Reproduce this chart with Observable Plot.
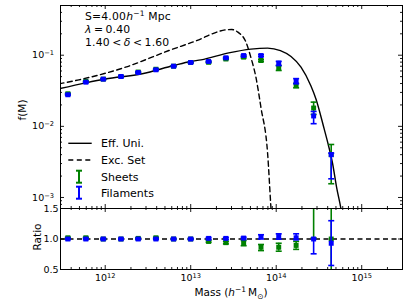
<!DOCTYPE html>
<html><head><meta charset="utf-8">
<script src="https://cdn.jsdelivr.net/npm/d3@7"></script>
<script src="https://cdn.jsdelivr.net/npm/@observablehq/plot@0.6"></script>
<style>
html,body{margin:0;padding:0;background:#fff;}
#wrap{position:relative;width:407px;height:308px;font-family:"DejaVu Sans",sans-serif;}
#wrap svg{display:block;overflow:visible;}
#ov{position:absolute;left:0;top:0;pointer-events:none;}
</style></head><body>
<div id="wrap"></div>
<script>
// ---------- data ----------
const massBins = [3.66e11, 5.94e11, 9.49e11, 1.53e12, 2.43e12, 3.92e12, 6.31e12, 1.0e13, 1.62e13, 2.58e13, 4.16e13, 6.64e13, 1.07e14, 1.71e14, 2.74e14, 4.40e14];

const sheetsF  = [0.0287, 0.0428, 0.0461, 0.0502, 0.0580, 0.0635, 0.0701, 0.0791, 0.0795, 0.0885, 0.0940, 0.0843, 0.0663, 0.0376, 0.0181, 0.0040];
const sheetsLo = [0.0281, 0.0420, 0.0452, 0.0493, 0.0570, 0.0624, 0.0690, 0.0778, 0.0780, 0.0868, 0.0915, 0.0815, 0.0610, 0.0348, 0.0147, 0.00156];
const sheetsHi = [0.0293, 0.0436, 0.0470, 0.0511, 0.0590, 0.0646, 0.0712, 0.0804, 0.0810, 0.0902, 0.0965, 0.0871, 0.0716, 0.0404, 0.0219, 0.00556];

const filF  = [0.0278, 0.0418, 0.0461, 0.0502, 0.0571, 0.0624, 0.0701, 0.0791, 0.0817, 0.0920, 0.0990, 0.0990, 0.0773, 0.0431, 0.0140, 0.0040];
const filLo = [0.0272, 0.0410, 0.0452, 0.0493, 0.0561, 0.0613, 0.0690, 0.0778, 0.0800, 0.0900, 0.0965, 0.0960, 0.0716, 0.0396, 0.0109, 0.00183];
const filHi = [0.0284, 0.0426, 0.0470, 0.0511, 0.0581, 0.0635, 0.0712, 0.0804, 0.0834, 0.0940, 0.1015, 0.1020, 0.0819, 0.0469, 0.0162, 0.0042];

const sheetsR   = [1.02, 1.02, 1.00, 1.00, 1.01, 1.02, 1.00, 1.00, 0.96, 0.94, 0.93, 0.865, 0.865, 0.895, 1.60, 1.00];
const sheetsRLo = [1.01, 1.01, 0.99, 0.99, 1.00, 1.01, 0.99, 0.99, 0.945, 0.92, 0.89, 0.81, 0.80, 0.83, 1.02, 0.30];
const sheetsRHi = [1.03, 1.03, 1.01, 1.01, 1.02, 1.03, 1.01, 1.01, 0.975, 0.96, 0.975, 0.91, 0.93, 0.96, 2.20, 1.70];

const filR   = [1.00, 1.00, 1.00, 1.00, 1.00, 1.00, 1.00, 1.00, 1.01, 1.01, 1.015, 1.04, 1.04, 1.02, 1.00, 0.93];
const filRLo = [0.99, 0.99, 0.99, 0.99, 0.99, 0.99, 0.99, 0.99, 0.995, 0.995, 1.00, 1.00, 0.997, 0.987, 0.757, 0.566];
const filRHi = [1.01, 1.01, 1.01, 1.01, 1.01, 1.01, 1.01, 1.01, 1.025, 1.025, 1.03, 1.07, 1.085, 1.085, 1.00, 1.30];

const effUniM = [2.88e11, 5.94e11, 1.0e12, 2.71e12, 6.31e12, 1.0e13, 1.32e13, 2.79e13, 5.06e13, 7.94e13, 1.12e14, 1.49e14, 1.95e14, 2.55e14, 2.91e14, 3.64e14, 4.06e14, 4.57e14, 5.08e14, 5.71e14, 6.31e14];
const effUniF = [0.0337, 0.0409, 0.0463, 0.0548, 0.0716, 0.0817, 0.0860, 0.108, 0.122, 0.126, 0.116, 0.096, 0.068, 0.037, 0.0245, 0.0092, 0.00556, 0.00298, 0.0014, 0.0007, 0.00033];

const excSetM = [2.88e11, 4.92e11, 1.73e12, 5.56e12, 1.32e13, 1.78e13, 2.58e13, 3.02e13, 3.56e13, 4.43e13, 5.06e13, 5.79e13, 6.62e13, 7.94e13, 8.67e13, 9.04e13];
const excSetF = [0.0396, 0.0451, 0.0679, 0.1164, 0.170, 0.200, 0.2276, 0.230, 0.211, 0.1525, 0.0929, 0.0491, 0.0186, 0.00411, 0.00073, 0.00034];

const xMajorTicks = [1e12, 1e13, 1e14, 1e15];
const yMainTicks = [1e-1, 1e-2, 1e-3];
const yRatioTicks = [0.5, 1.0, 1.5];
const xDomain = [3e11, 3e15];
const yMainDomain = [7e-4, 0.5];
const yRatioDomain = [0.5, 1.5];

// ---------- layout ----------
const W = 407, ML = 60, MR = 5;
const innerW = W - ML - MR;
const mainH = 208, mainMT = 5;
const ratioH = 100, ratioMB = 39;
const green = "#008000", blue = "#0000ff";
const idx = d3.range(massBins.length);
const capSymbol = {draw(ctx, size) { const w = Math.sqrt(size / Math.PI); ctx.moveTo(-w, 0); ctx.lineTo(w, 0); }};

function minorLog(lo, hi) {
  const out = [];
  for (let e = Math.floor(Math.log10(lo)); e <= Math.ceil(Math.log10(hi)); e++)
    for (let k = 2; k <= 9; k++) { const v = k * Math.pow(10, e); if (v > lo && v < hi) out.push(v); }
  return out;
}

function frameTicks(innerH, xSets, ySets) {
  const m = [];
  const st = {stroke: "black", strokeWidth: 0.9};
  for (const [vals, len] of xSets) {
    m.push(Plot.ruleX(vals, {x: d => d, insetTop: innerH - len, ...st}));
    m.push(Plot.ruleX(vals, {x: d => d, insetBottom: innerH - len, ...st}));
  }
  for (const [vals, len] of ySets) {
    m.push(Plot.ruleY(vals, {y: d => d, insetRight: innerW - len, ...st}));
    m.push(Plot.ruleY(vals, {y: d => d, insetLeft: innerW - len, ...st}));
  }
  return m;
}

function errMarks(vals, lo, hi, color) {
  return [
    Plot.ruleX(idx, {x: i => massBins[i], y1: i => lo[i], y2: i => hi[i], stroke: color, strokeWidth: 1.6, clip: true}),
    Plot.dot(idx, {x: i => massBins[i], y: i => lo[i], symbol: capSymbol, r: 3, fill: "none", stroke: color, strokeWidth: 1.6, clip: true}),
    Plot.dot(idx, {x: i => massBins[i], y: i => hi[i], symbol: capSymbol, r: 3, fill: "none", stroke: color, strokeWidth: 1.6, clip: true}),
    Plot.dot(idx, {x: i => massBins[i], y: i => vals[i], symbol: "square", r: 2.8, fill: color, stroke: "none", clip: true})
  ];
}

const expFmt = d => "10^" + String(Math.round(Math.log10(d))).replace("-", "\u2212");
const baseStyle = {fontFamily: "DejaVu Sans", fontSize: "9.5px", color: "black", background: "transparent", overflow: "visible"};

const xMinor = minorLog(xDomain[0], xDomain[1]);
const yMinor = minorLog(yMainDomain[0], yMainDomain[1]);

const main = Plot.plot({
  width: W, height: mainH, marginTop: mainMT, marginBottom: 0, marginLeft: ML, marginRight: MR,
  style: baseStyle,
  x: {type: "log", domain: xDomain, axis: null},
  y: {type: "log", domain: yMainDomain, axis: null},
  marks: [
    Plot.line(d3.range(effUniM.length), {x: i => effUniM[i], y: i => effUniF[i], stroke: "black", strokeWidth: 1.4, curve: "monotone-x", clip: true}),
    Plot.line(d3.range(excSetM.length), {x: i => excSetM[i], y: i => excSetF[i], stroke: "black", strokeWidth: 1.4, strokeDasharray: "5,3.5", curve: "monotone-x", clip: true}),
    ...errMarks(sheetsF, sheetsLo, sheetsHi, green),
    ...errMarks(filF, filLo, filHi, blue),
    ...frameTicks(mainH - mainMT, [[xMajorTicks, 4], [xMinor, 2]], [[yMainTicks, 4], [yMinor, 2]]),
    Plot.frame({stroke: "black", strokeWidth: 1}),
    Plot.axisY(yMainTicks, {anchor: "left", tickSize: 0, tickPadding: 6.5, tickFormat: expFmt, label: null})
  ]
});

const ratio = Plot.plot({
  width: W, height: ratioH, marginTop: 0, marginBottom: ratioMB, marginLeft: ML, marginRight: MR,
  style: baseStyle,
  x: {type: "log", domain: xDomain, axis: null},
  y: {domain: yRatioDomain, axis: null},
  marks: [
    Plot.ruleY([1], {stroke: "black", strokeWidth: 1.4, strokeDasharray: "5,3.5"}),
    ...errMarks(sheetsR, sheetsRLo, sheetsRHi, green),
    ...errMarks(filR, filRLo, filRHi, blue),
    ...frameTicks(ratioH - ratioMB, [[xMajorTicks, 4], [xMinor, 2]], [[yRatioTicks, 4]]),
    Plot.frame({stroke: "black", strokeWidth: 1}),
    Plot.axisY(yRatioTicks, {anchor: "left", tickSize: 0, tickPadding: 2, tickFormat: d3.format(".1f"), label: null}),
    Plot.axisX(xMajorTicks, {anchor: "bottom", tickSize: 0, tickPadding: 5, tickFormat: expFmt, label: null})
  ]
});

const NS = "http://www.w3.org/2000/svg";
function supify(svg) {
  svg.querySelectorAll("text").forEach(t => {
    const m = /^10\^(.+)$/.exec(t.textContent);
    if (!m) return;
    t.textContent = "";
    const a = document.createElementNS(NS, "tspan"); a.textContent = "10";
    const b = document.createElementNS(NS, "tspan"); b.textContent = m[1];
    b.setAttribute("dy", "-0.45em"); b.setAttribute("font-size", "70%");
    t.append(a, b);
  });
}
supify(main); supify(ratio);

const wrap = document.getElementById("wrap");
wrap.append(main, ratio);

// ---------- overlay: annotation, legend, axis titles ----------
const ov = document.createElementNS(NS, "svg");
ov.setAttribute("id", "ov"); ov.setAttribute("width", W); ov.setAttribute("height", 308);
ov.setAttribute("font-family", "DejaVu Sans");
ov.innerHTML = `
<g font-size="10.8" fill="black" letter-spacing="0.2">
  <text x="85" y="20">S=4.00<tspan font-style="italic">h</tspan><tspan dy="-4" font-size="7.5">\u22121</tspan><tspan dy="4"> Mpc</tspan></text>
  <text x="85" y="32.8"><tspan font-style="italic">λ</tspan>\u2009=\u20090.40</text>
  <text x="85" y="45.6">1.40\u2009&lt;\u2009<tspan font-style="italic">δ</tspan>\u2009&lt;\u20091.60</text>
</g>
<g font-size="11" fill="black">
  <line x1="68.3" x2="91.7" y1="143.3" y2="143.3" stroke="black" stroke-width="1.4"/>
  <text x="101" y="147.3">Eff. Uni.</text>
  <line x1="68.3" x2="91.7" y1="160" y2="160" stroke="black" stroke-width="1.4" stroke-dasharray="5,3.5"/>
  <text x="101" y="164">Exc. Set</text>
  <g stroke="${green}" stroke-width="2"><line x1="79" x2="79" y1="170.7" y2="182.7"/><line x1="76" x2="82" y1="170.7" y2="170.7"/><line x1="76" x2="82" y1="182.7" y2="182.7"/></g>
  <text x="101" y="180.7">Sheets</text>
  <g stroke="${blue}" stroke-width="2"><line x1="79" x2="79" y1="186.7" y2="198.7"/><line x1="76" x2="82" y1="186.7" y2="186.7"/><line x1="76" x2="82" y1="198.7" y2="198.7"/></g>
  <text x="101" y="196.7">Filaments</text>
</g>
<g font-size="10.5" fill="black" text-anchor="middle">
  <text transform="translate(25.5,110) rotate(-90)">f(M)</text>
  <text transform="translate(41,237) rotate(-90)">Ratio</text>
  <text x="231" y="296">Mass (<tspan font-style="italic">h</tspan><tspan dy="-4" font-size="7.5">\u22121</tspan><tspan dy="4">\u2009M</tspan><tspan dy="2.5" font-size="7.5">⊙</tspan><tspan dy="-2.5">)</tspan></text>
</g>`;
wrap.append(ov);
</script>
</body></html>
